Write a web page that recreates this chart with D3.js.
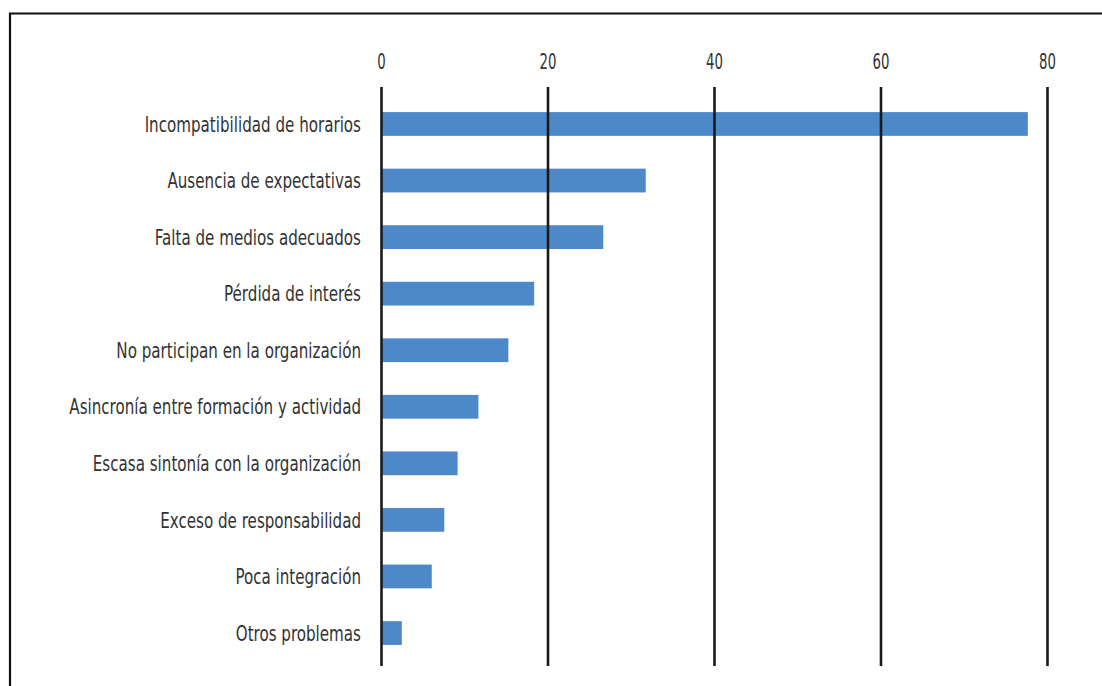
<!DOCTYPE html>
<html><head><meta charset="utf-8">
<script src="https://cdn.jsdelivr.net/npm/d3@7"></script>
<style>
html,body{margin:0;padding:0;background:#fff;}
svg{display:block;}
text{font-family:"Liberation Sans Narrow","DejaVu Sans Condensed","Roboto Condensed",sans-serif;}
</style></head>
<body>
<script>
const categories = ["Incompatibilidad de horarios","Ausencia de expectativas","Falta de medios adecuados","Pérdida de interés","No participan en la organización","Asincronía entre formación y actividad","Escasa sintonía con la organización","Exceso de responsabilidad","Poca integración","Otros problemas"];
const values = [77.7, 31.8, 26.7, 18.4, 15.3, 11.7, 9.2, 7.6, 6.1, 2.5];
const tickValues = [0, 20, 40, 60, 80];

const W = 1102, H = 686;
const svg = d3.select("body").append("svg").attr("width", W).attr("height", H);

// frame
svg.append("path").attr("d", `M10,${H} L10,13.5 L${W},13.5`).attr("fill","none").attr("stroke","#111").attr("stroke-width",2.2);

const x = d3.scaleLinear().domain([0,80]).range([381,1047]);
const y = d3.scaleBand().domain(categories).range([95.7,661.3]).paddingInner(0.58).paddingOuter(0.29);

svg.selectAll("rect.bar").data(values).enter().append("rect")
  .attr("class","bar")
  .attr("x", x(0))
  .attr("y", (d,i)=>y(categories[i]))
  .attr("width", d=>x(d)-x(0))
  .attr("height", y.bandwidth())
  .attr("fill","#4d89c8");

// gridlines via axis
const axis = d3.axisTop(x).tickValues(tickValues).tickSize(-(666-87)).tickPadding(13).tickFormat(d3.format("d"));
const g = svg.append("g").attr("transform","translate(0,87)").call(axis);
g.select(".domain").remove();
g.selectAll(".tick line").attr("stroke","#1a1a1a").attr("stroke-width",2.6).attr("y1",0).attr("y2",666-87);
g.selectAll(".tick text").attr("font-size",18).attr("fill","#333").attr("dy","0").attr("y",0)
  .attr("transform","translate(0,-18) scale(0.82,1.15)");

// labels
svg.selectAll("g.lab").data(categories).enter().append("g")
  .attr("class","lab")
  .attr("transform", d=>`translate(361,${y(d)+y.bandwidth()/2}) scale(0.885,1.15)`)
  .append("text")
  .attr("dy","0.35em")
  .attr("text-anchor","end")
  .attr("font-size",19)
  .attr("fill","#333")
  .text(d=>d);
</script>
</body></html>
